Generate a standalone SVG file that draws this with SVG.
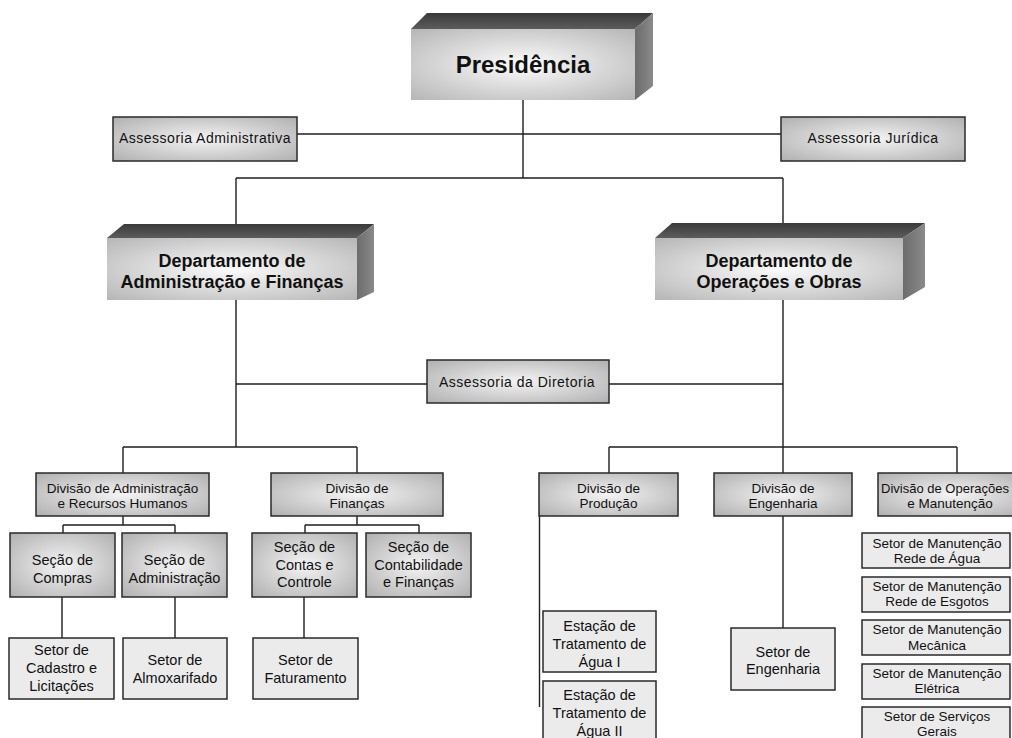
<svg xmlns="http://www.w3.org/2000/svg" width="1012" height="738" viewBox="0 0 1012 738">
<defs>
<radialGradient id="gFront" cx="50%" cy="50%" r="70%">
<stop offset="0" stop-color="#fcfcfc"/>
<stop offset="1" stop-color="#b6b6b6"/>
</radialGradient>
<linearGradient id="gTop" x1="0" y1="0" x2="0" y2="1">
<stop offset="0" stop-color="#3a3a3a"/>
<stop offset="1" stop-color="#5c5c5c"/>
</linearGradient>
<linearGradient id="gSide" x1="0" y1="0" x2="1" y2="0">
<stop offset="0" stop-color="#6c6c6c"/>
<stop offset="1" stop-color="#8a8a8a"/>
</linearGradient>
<radialGradient id="gBox" cx="50%" cy="50%" r="68%">
<stop offset="0" stop-color="#f4f4f4"/>
<stop offset="1" stop-color="#b2b2b2"/>
</radialGradient>
</defs>
<style>
.top{fill:url(#gTop)}
.side{fill:url(#gSide)}
.front{fill:url(#gFront)}
.gb{fill:url(#gBox);stroke:#2a2a2a;stroke-width:1.5}
.fb{fill:#ebebeb;stroke:#2a2a2a;stroke-width:1.5}
text{font-family:"Liberation Sans",Arial,sans-serif;fill:#111;text-anchor:middle}
.big{font-size:24px;font-weight:bold}
.dep{font-size:18px;font-weight:bold}
.as{font-size:14px;letter-spacing:0.5px}
.dv{font-size:13.5px}
.sc{font-size:14.5px}
.st{font-size:13.5px}
#connectors path{fill:none;stroke:#1e1e1e;stroke-width:1.4}
</style>
<rect width="1012" height="738" fill="#ffffff"/>
<g id="connectors">
<path d="M523 100V178"/>
<path d="M297 134H781"/>
<path d="M236 178H783"/>
<path d="M236 178V224M783 178V224"/>
<path d="M236 300V447M783 300V473"/>
<path d="M236 384H427M609 384H783"/>
<path d="M123 447H357M123 447V473M357 447V473"/>
<path d="M609 447H957M609 447V473M957 447V473"/>
<path d="M123 516V525M63 525H175M63 525V533M175 525V533"/>
<path d="M357 516V525M305 525H419M305 525V533M419 525V533"/>
<path d="M62 597V638M175 597V638M304 597V638"/>
<path d="M539.5 516V707"/>
<path d="M783 516V628"/>
</g>
<g id="presidencia">
<polygon class="top" points="411,29 427,13 653,13 635,29"/>
<polygon class="side" points="635,29 653,13 653,86 635,100"/>
<rect class="front" x="411" y="29" width="224" height="71"/>
<text class="big" x="523" y="73">Presidência</text>
</g>
<g id="assessoria-administrativa">
<rect class="gb" x="113" y="117" width="184" height="44"/>
<text class="as" x="205" y="143">Assessoria Administrativa</text>
</g>
<g id="assessoria-juridica">
<rect class="gb" x="781" y="117" width="184" height="44"/>
<text class="as" x="873" y="143">Assessoria Jurídica</text>
</g>
<g id="dep-adm">
<polygon class="top" points="107,238 124,224 374,224 357,238"/>
<polygon class="side" points="357,238 374,224 374,292 357,300"/>
<rect class="front" x="107" y="238" width="250" height="62"/>
<text class="dep" x="232" y="267">Departamento de</text>
<text class="dep" x="232" y="288">Administração e Finanças</text>
</g>
<g id="dep-oper">
<polygon class="top" points="655,238 672,223 925,223 903,238"/>
<polygon class="side" points="903,238 925,223 925,287 903,300"/>
<rect class="front" x="655" y="238" width="248" height="62"/>
<text class="dep" x="779" y="267">Departamento de</text>
<text class="dep" x="779" y="288">Operações e Obras</text>
</g>
<g id="assessoria-diretoria">
<rect class="gb" x="427" y="360" width="182" height="43"/>
<text class="as" x="517" y="387">Assessoria da Diretoria</text>
</g>
<g id="div-adm-rh">
<rect class="gb" x="36" y="473" width="173" height="43"/>
<text class="dv" x="122.5" y="493">Divisão de Administração</text>
<text class="dv" x="122.5" y="508">e Recursos Humanos</text>
</g>
<g id="div-financas">
<rect class="gb" x="271" y="473" width="172" height="43"/>
<text class="dv" x="357" y="493">Divisão de</text>
<text class="dv" x="357" y="508">Finanças</text>
</g>
<g id="div-producao">
<rect class="gb" x="539" y="473" width="139" height="43"/>
<text class="dv" x="608.5" y="493">Divisão de</text>
<text class="dv" x="608.5" y="508">Produção</text>
</g>
<g id="div-engenharia">
<rect class="gb" x="714" y="473" width="138" height="43"/>
<text class="dv" x="783" y="493">Divisão de</text>
<text class="dv" x="783" y="508">Engenharia</text>
</g>
<g id="div-oper-manut">
<rect class="gb" x="878" y="473" width="148" height="43"/>
<text class="dv" x="945" y="493" style="font-size:13px">Divisão de Operações</text>
<text class="dv" x="950" y="508">e Manutenção</text>
</g>
<g id="secao-compras">
<rect class="gb" x="10" y="533" width="105" height="64"/>
<text class="sc" x="62.5" y="565">Seção de</text>
<text class="sc" x="62.5" y="583">Compras</text>
</g>
<g id="secao-administracao">
<rect class="gb" x="122" y="533" width="105" height="64"/>
<text class="sc" x="174.5" y="565">Seção de</text>
<text class="sc" x="174.5" y="583">Administração</text>
</g>
<g id="secao-contas">
<rect class="gb" x="252" y="533" width="105" height="64"/>
<text class="sc" x="304.5" y="552">Seção de</text>
<text class="sc" x="304.5" y="569.5">Contas e</text>
<text class="sc" x="304.5" y="587">Controle</text>
</g>
<g id="secao-contabilidade">
<rect class="gb" x="366" y="533" width="105" height="64"/>
<text class="sc" x="418.5" y="552">Seção de</text>
<text class="sc" x="418.5" y="569.5">Contabilidade</text>
<text class="sc" x="418.5" y="587">e Finanças</text>
</g>
<g id="setor-cadastro">
<rect class="fb" x="9" y="638" width="105" height="61"/>
<text class="sc" x="61.5" y="655">Setor de</text>
<text class="sc" x="61.5" y="673">Cadastro e</text>
<text class="sc" x="61.5" y="691">Licitações</text>
</g>
<g id="setor-almoxarifado">
<rect class="fb" x="123" y="638" width="104" height="61"/>
<text class="sc" x="175" y="665">Setor de</text>
<text class="sc" x="175" y="683">Almoxarifado</text>
</g>
<g id="setor-faturamento">
<rect class="fb" x="253" y="638" width="105" height="61"/>
<text class="sc" x="305.5" y="665">Setor de</text>
<text class="sc" x="305.5" y="683">Faturamento</text>
</g>
<g id="eta-1">
<rect class="fb" x="543" y="611" width="113" height="61"/>
<text class="sc" x="599.5" y="631">Estação de</text>
<text class="sc" x="599.5" y="649">Tratamento de</text>
<text class="sc" x="599.5" y="667">Água I</text>
</g>
<g id="eta-2">
<rect class="fb" x="543" y="681" width="113" height="62"/>
<text class="sc" x="599.5" y="700">Estação de</text>
<text class="sc" x="599.5" y="718">Tratamento de</text>
<text class="sc" x="599.5" y="736">Água II</text>
</g>
<g id="setor-engenharia">
<rect class="fb" x="731" y="628" width="104" height="62"/>
<text class="sc" x="783" y="657">Setor de</text>
<text class="sc" x="783" y="674">Engenharia</text>
</g>
<g id="setor-rede-agua">
<rect class="fb" x="862" y="533" width="148" height="35"/>
<text class="st" x="937" y="548">Setor de Manutenção</text>
<text class="st" x="937" y="563">Rede de Água</text>
</g>
<g id="setor-rede-esgotos">
<rect class="fb" x="862" y="577" width="148" height="35"/>
<text class="st" x="937" y="591">Setor de Manutenção</text>
<text class="st" x="937" y="606">Rede de Esgotos</text>
</g>
<g id="setor-mecanica">
<rect class="fb" x="862" y="620" width="148" height="35"/>
<text class="st" x="937" y="634">Setor de Manutenção</text>
<text class="st" x="937" y="650">Mecânica</text>
</g>
<g id="setor-eletrica">
<rect class="fb" x="862" y="664" width="148" height="35"/>
<text class="st" x="937" y="678">Setor de Manutenção</text>
<text class="st" x="937" y="693">Elétrica</text>
</g>
<g id="setor-servicos-gerais">
<rect class="fb" x="862" y="707" width="148" height="36"/>
<text class="st" x="937" y="721">Setor de Serviços</text>
<text class="st" x="937" y="736">Gerais</text>
</g>
</svg>
